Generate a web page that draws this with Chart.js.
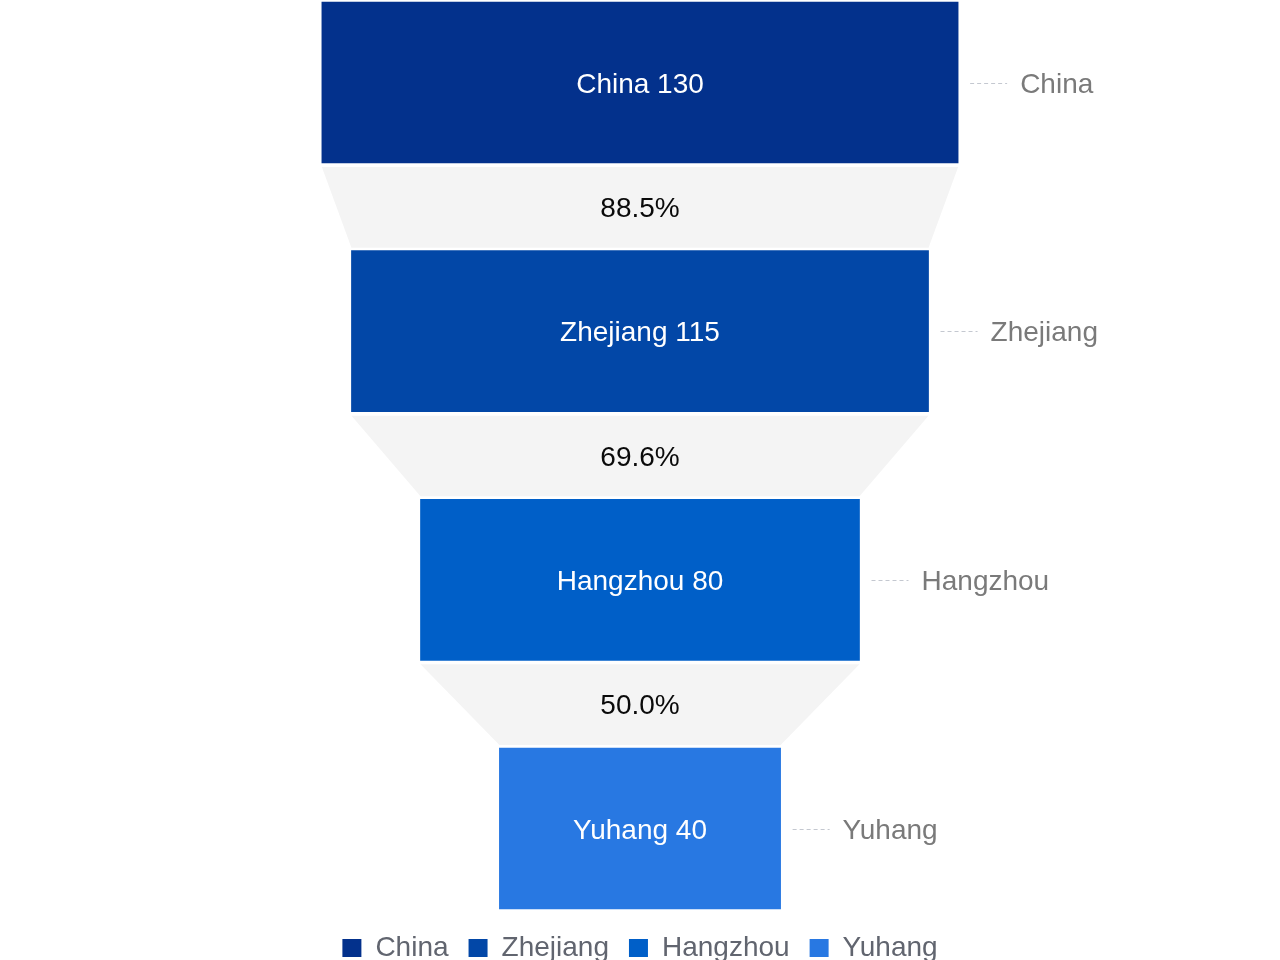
<!DOCTYPE html>
<html>
<head>
<meta charset="utf-8">
<script src="https://cdn.jsdelivr.net/npm/chart.js@4/dist/chart.umd.min.js"></script>
<style>
html,body{margin:0;padding:0;background:#fff;}
#wrap{width:1280px;height:960px;position:relative;}
</style>
</head>
<body>
<div id="wrap"><canvas id="c" width="1280" height="960"></canvas></div>
<script>
// ---- data ----
const categories = ['China', 'Zhejiang', 'Hangzhou', 'Yuhang'];
const values = [130, 115, 80, 40];
const colors = ['#03318c', '#0247a7', '#005fc8', '#2878e2'];

// ---- style constants ----
const FONT = '"Liberation Sans", Arial, sans-serif';
const FONT_SIZE = 28;
const CAP_HALF = 10;          // half cap height, for vertical centring
const minHalfWidth = 31.3;    // funnel minimum half width in value units
const xHalfRange = 324.5;
const rowStep = 248.67;       // px between row centres
const firstRowCenter = 82.5;  // px
const areaHeight = 914;       // expected chart area height

const barData = values.map((v, i) => ({ x: [-(v + minHalfWidth), v + minHalfWidth], y: i }));
const yMin = -firstRowCenter / rowStep;
const yMax = yMin + areaHeight / rowStep;

const funnelPlugin = {
  id: 'funnel',
  beforeDatasetsDraw(chart) {
    const ctx = chart.ctx;
    const bars = chart.getDatasetMeta(0).data;
    ctx.save();
    for (let i = 0; i < bars.length - 1; i++) {
      const a = bars[i], b = bars[i + 1];
      const aL = Math.min(a.x, a.base), aR = Math.max(a.x, a.base);
      const bL = Math.min(b.x, b.base), bR = Math.max(b.x, b.base);
      const top = a.y + a.height / 2 + 4;
      const bot = b.y - b.height / 2 - 3;
      ctx.fillStyle = '#f4f4f4';
      ctx.beginPath();
      ctx.moveTo(aL, top);
      ctx.lineTo(aR, top);
      ctx.lineTo(bR, bot);
      ctx.lineTo(bL, bot);
      ctx.closePath();
      ctx.fill();
      const pct = (values[i + 1] / values[i] * 100).toFixed(1) + '%';
      ctx.fillStyle = '#0a0a0a';
      ctx.font = FONT_SIZE + 'px ' + FONT;
      ctx.textAlign = 'center';
      ctx.textBaseline = 'alphabetic';
      ctx.fillText(pct, (a.x + a.base) / 2, (a.y + a.height / 2 + b.y - b.height / 2) / 2 + CAP_HALF);
    }
    ctx.restore();
  },
  afterDatasetsDraw(chart) {
    const ctx = chart.ctx;
    const bars = chart.getDatasetMeta(0).data;
    ctx.save();
    bars.forEach((bar, i) => {
      const cx = (bar.x + bar.base) / 2;
      const right = Math.max(bar.x, bar.base);
      ctx.font = FONT_SIZE + 'px ' + FONT;
      ctx.textBaseline = 'alphabetic';
      ctx.textAlign = 'center';
      ctx.fillStyle = '#ffffff';
      ctx.fillText(categories[i] + ' ' + values[i], cx, bar.y + CAP_HALF);
      // leader line
      ctx.strokeStyle = '#c4c8d0';
      ctx.lineWidth = 1;
      ctx.setLineDash([4, 3]);
      ctx.beginPath();
      ctx.moveTo(right + 12, Math.round(bar.y) + 0.5);
      ctx.lineTo(right + 49, Math.round(bar.y) + 0.5);
      ctx.stroke();
      ctx.setLineDash([]);
      ctx.textAlign = 'left';
      ctx.fillStyle = '#7a7a7a';
      ctx.fillText(categories[i], right + 62, bar.y + CAP_HALF);
    });
    ctx.restore();
  }
};

new Chart(document.getElementById('c'), {
  type: 'bar',
  data: {
    datasets: [{
      label: 'funnel',
      data: barData,
      backgroundColor: colors,
      borderWidth: 0,
      barThickness: 161
    }]
  },
  options: {
    indexAxis: 'y',
    responsive: false,
    animation: false,
    layout: { padding: { top: 0, left: 0, right: 0, bottom: -12 } },
    scales: {
      x: { type: 'linear', min: -xHalfRange, max: xHalfRange, display: false, offset: false },
      y: { type: 'linear', min: yMin, max: yMax, reverse: true, display: false, offset: false, grid: { offset: false } }
    },
    plugins: {
      tooltip: { enabled: false },
      legend: {
        position: 'bottom',
        labels: {
          boxWidth: 19,
          boxHeight: 18,
          padding: 20,
          color: '#61656f',
          font: { size: FONT_SIZE, family: FONT },
          generateLabels: () => categories.map((c, i) => ({
            text: c,
            fillStyle: colors[i],
            strokeStyle: colors[i],
            fontColor: '#61656f',
            lineWidth: 0,
            hidden: false,
            index: i,
            datasetIndex: 0
          }))
        }
      }
    }
  },
  plugins: [funnelPlugin]
});
</script>
</body>
</html>
